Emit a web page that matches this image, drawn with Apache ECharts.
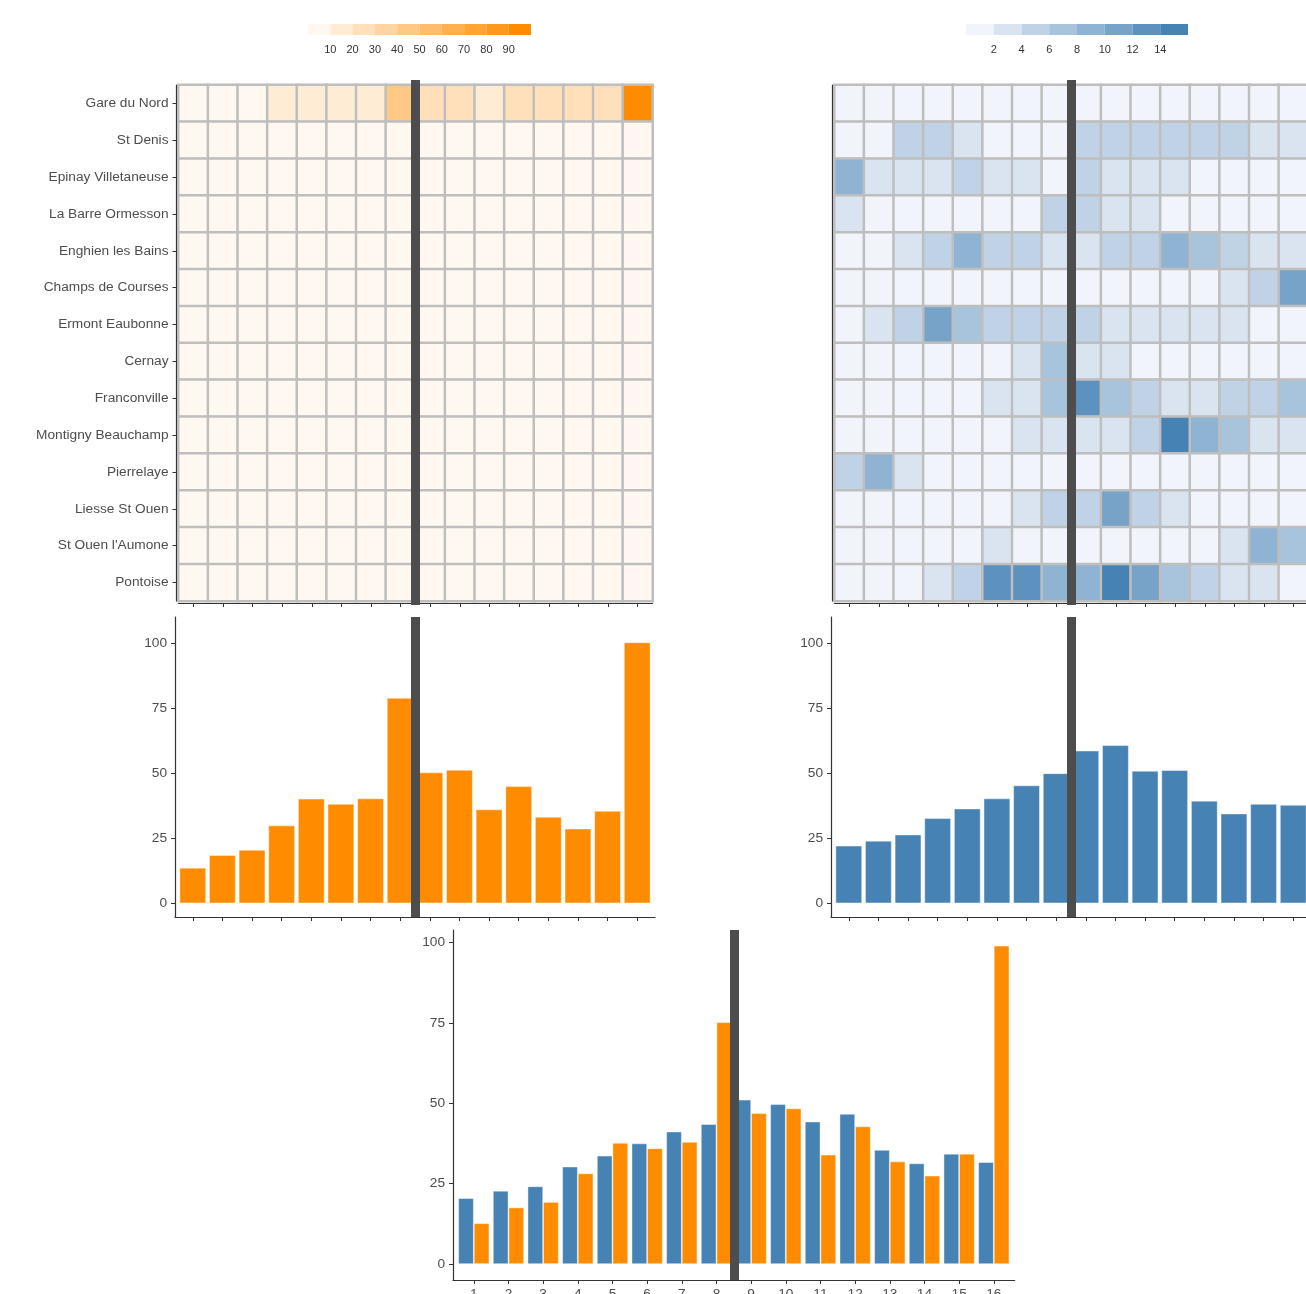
<!DOCTYPE html>
<html>
<head>
<meta charset="utf-8">
<script src="https://cdn.jsdelivr.net/npm/echarts@6/dist/echarts.min.js"></script>
<style>
  html, body { margin: 0; padding: 0; background: #ffffff; }
  #chart { width: 1306px; height: 1294px; }
</style>
</head>
<body>
<div id="chart"></div>
<script>
// Stations along the line, top to bottom
const stations = [
  'Gare du Nord', 'St Denis', 'Epinay Villetaneuse', 'La Barre Ormesson',
  'Enghien les Bains', 'Champs de Courses', 'Ermont Eaubonne', 'Cernay',
  'Franconville', 'Montigny Beauchamp', 'Pierrelaye', 'Liesse St Ouen',
  "St Ouen l'Aumone", 'Pontoise'
];
// Time slots 1..16
const slots = [1, 2, 3, 4, 5, 6, 7, 8, 9, 10, 11, 12, 13, 14, 15, 16];
// The dark separator sits after this slot
const splitAfter = 8;

// Orange counts per station (rows) and slot (columns)
const orangeCounts = [
  [4, 5, 6, 14, 15, 16, 15, 45, 26, 27, 16, 24, 25, 23, 24, 96],
  [2, 2, 3, 2, 3, 2, 3, 4, 3, 2, 3, 2, 2, 3, 2, 3],
  [1, 2, 2, 3, 2, 2, 2, 3, 2, 2, 2, 1, 1, 2, 1, 2],
  [1, 1, 1, 1, 2, 1, 2, 3, 2, 2, 1, 1, 1, 1, 1, 1],
  [1, 1, 2, 2, 3, 2, 2, 2, 2, 2, 2, 3, 2, 2, 1, 1],
  [1, 1, 1, 1, 1, 1, 1, 1, 1, 1, 1, 1, 1, 2, 2, 3],
  [1, 2, 2, 3, 3, 2, 2, 2, 2, 2, 2, 2, 2, 1, 1, 1],
  [0, 1, 1, 1, 1, 1, 1, 2, 1, 1, 1, 1, 1, 1, 1, 1],
  [1, 1, 1, 1, 1, 2, 2, 2, 3, 2, 2, 2, 1, 2, 2, 2],
  [1, 1, 1, 1, 1, 1, 2, 2, 2, 2, 2, 3, 2, 2, 1, 1],
  [1, 2, 1, 1, 1, 1, 1, 1, 1, 1, 1, 1, 1, 1, 1, 1],
  [1, 1, 1, 1, 1, 1, 1, 2, 2, 3, 2, 1, 1, 1, 1, 1],
  [1, 1, 1, 1, 1, 1, 1, 1, 1, 1, 1, 1, 1, 1, 2, 2],
  [1, 1, 1, 2, 2, 3, 3, 3, 3, 3, 3, 2, 2, 1, 1, 1]
];

// Blue counts per station (rows) and slot (columns)
const blueCounts = [
  [1, 1, 1, 1, 1, 1, 1, 1, 1, 1, 1, 1, 1, 1, 1, 1],
  [1, 1, 5, 5, 3, 1, 1, 1, 5, 5, 5, 5, 5, 5, 3, 3],
  [9, 3, 3, 3, 5, 3, 3, 1, 5, 3, 3, 3, 1, 1, 1, 1],
  [3, 1, 1, 1, 1, 1, 1, 5, 5, 3, 3, 1, 1, 1, 1, 1],
  [1, 1, 3, 5, 9, 5, 5, 3, 3, 5, 5, 9, 7, 5, 3, 3],
  [1, 1, 1, 1, 1, 1, 1, 1, 1, 1, 1, 1, 1, 3, 5, 11],
  [1, 3, 5, 11, 7, 5, 5, 5, 5, 3, 3, 3, 3, 3, 1, 1],
  [1, 1, 1, 1, 1, 1, 3, 7, 3, 3, 1, 1, 1, 1, 1, 1],
  [1, 1, 1, 1, 1, 3, 3, 7, 13, 7, 5, 3, 3, 5, 5, 7],
  [1, 1, 1, 1, 1, 1, 3, 3, 3, 3, 5, 15, 9, 7, 3, 3],
  [5, 9, 3, 1, 1, 1, 1, 1, 1, 1, 1, 1, 1, 1, 1, 1],
  [1, 1, 1, 1, 1, 1, 3, 5, 5, 11, 5, 3, 1, 1, 1, 1],
  [1, 1, 1, 1, 1, 3, 1, 1, 1, 1, 1, 1, 1, 3, 9, 7],
  [1, 1, 1, 3, 5, 13, 13, 9, 9, 15, 11, 7, 5, 3, 3, 1]
];

// Totals per slot
const orangeTotals = [13.7, 18.6, 20.6, 30.0, 40.3, 38.3, 40.4, 79.1, 50.4, 51.4, 36.2, 45.1, 33.3, 28.8, 35.6, 100.5];
const blueTotals = [22.2, 24.1, 26.5, 32.8, 36.5, 40.4, 45.4, 50.1, 58.8, 60.9, 51.0, 51.3, 39.5, 34.6, 38.3, 37.9];

// Side-by-side comparison
const compareBlue = [20.5, 22.8, 24.2, 30.3, 33.7, 37.5, 41.2, 43.5, 51.1, 49.7, 44.3, 46.7, 35.5, 31.3, 34.3, 31.7];
const compareOrange = [12.7, 17.6, 19.3, 28.2, 37.7, 36.0, 38.0, 75.2, 46.9, 48.4, 34.0, 42.8, 31.9, 27.5, 34.3, 99.0];

// Tick labels
const barTicks = [0, 25, 50, 75, 100];
const orangeLegendTicks = [10, 20, 30, 40, 50, 60, 70, 80, 90];
const blueLegendTicks = [2, 4, 6, 8, 10, 12, 14];

// ---------- helpers ----------
const ORANGE = '#ff8c00';
const BLUE = '#4682b4';
const SEP = '#4d4d4d';
const AXIS = '#333333';
const LABEL = '#4d4d4d';
const FONT = '"Liberation Sans", Arial, Helvetica, sans-serif';
const TICK_FONT = 13.7;

function hexToRgb(h) {
  const n = parseInt(h.slice(1), 16);
  return [(n >> 16) & 255, (n >> 8) & 255, n & 255];
}
// Stepped colour ramp: count equal bins between lo and hi
function rampBins(lo, hi, count, from, to) {
  const a = hexToRgb(from), b = hexToRgb(to), step = (hi - lo) / count, out = [];
  for (let i = 0; i < count; i++) {
    const t = i / (count - 1);
    const c = a.map((v, k) => Math.round(v + (b[k] - v) * t));
    const piece = { gte: lo + i * step, color: 'rgb(' + c.join(',') + ')' };
    if (i === count - 1) piece.lte = hi; else piece.lt = lo + (i + 1) * step;
    out.push(piece);
  }
  return out;
}
const orangeBins = rampBins(0, 100, 10, '#fff8f0', ORANGE);
const blueBins = rampBins(0, 16, 8, '#f1f4fa', BLUE);

function cells(matrix) {
  const out = [];
  matrix.forEach((row, r) => row.forEach((v, c) => out.push([c, r, v])));
  return out;
}
const pairs = arr => arr.map((v, i) => [slots[i], v]);

const sepLine = {
  silent: true,
  symbol: ['none', 'none'],
  label: { show: false },
  lineStyle: { color: SEP, width: 9, type: 'solid', opacity: 1 },
  emphasis: { disabled: true },
  z: 10,
  data: [{ xAxis: splitAfter + 0.5 }]
};
// Empty carrier series that only draws the separator in a grid
function separator(xi, yi) {
  return { type: 'line', xAxisIndex: xi, yAxisIndex: yi, data: [], symbol: 'none', z: 10, markLine: sepLine };
}

function legendSeries(bins, xi, yi) {
  return {
    type: 'custom', xAxisIndex: xi, yAxisIndex: yi, silent: true,
    data: bins.map(b => [b.gte, b.lt !== undefined ? b.lt : b.lte]),
    renderItem: (params, api) => {
      const p0 = api.coord([api.value(0), 1]);
      const p1 = api.coord([api.value(1), 0]);
      return {
        type: 'rect',
        shape: { x: p0[0], y: p0[1], width: p1[0] - p0[0], height: p1[1] - p0[1] },
        style: { fill: bins[params.dataIndex].color }
      };
    }
  };
}

// ---------- axes ----------
function heatX(grid) {
  return {
    type: 'category', gridIndex: grid, data: slots.map(String), offset: 2,
    axisLine: { show: true, onZero: false, lineStyle: { color: AXIS, width: 1.2 } },
    axisTick: { show: true, alignWithLabel: true, length: 4, lineStyle: { color: AXIS } },
    axisLabel: { show: false }, splitLine: { show: false }
  };
}
function heatY(grid, labels) {
  return {
    type: 'category', gridIndex: grid, data: stations, inverse: true, offset: 2,
    axisLine: { show: true, onZero: false, lineStyle: { color: AXIS, width: 1.2 } },
    axisTick: { show: labels, alignWithLabel: true, length: 4, lineStyle: { color: AXIS } },
    axisLabel: { show: labels, color: LABEL, fontSize: TICK_FONT, fontFamily: FONT, margin: 8 },
    splitLine: { show: false }
  };
}
function hiddenValue(grid, min, max) {
  return { type: 'value', gridIndex: grid, min, max, show: false };
}
function barX(grid, labels) {
  return {
    type: 'value', gridIndex: grid, min: 0.4, max: 16.6,
    axisLine: { show: true, onZero: false, lineStyle: { color: AXIS, width: 1.2 } },
    axisTick: { show: true, length: 4, customValues: slots, lineStyle: { color: AXIS } },
    axisLabel: { show: labels, customValues: slots, color: LABEL, fontSize: TICK_FONT, fontFamily: FONT, margin: 7 },
    splitLine: { show: false }
  };
}
function barY(grid, min, max) {
  return {
    type: 'value', gridIndex: grid, min, max,
    axisLine: { show: true, onZero: false, lineStyle: { color: AXIS, width: 1.2 } },
    axisTick: { show: true, length: 4, customValues: barTicks, lineStyle: { color: AXIS } },
    axisLabel: { show: true, customValues: barTicks, color: LABEL, fontSize: TICK_FONT, fontFamily: FONT, margin: 8 },
    splitLine: { show: false }
  };
}
function legendX(grid, min, max, ticks) {
  return {
    type: 'value', gridIndex: grid, min, max,
    axisLine: { show: false }, axisTick: { show: false }, splitLine: { show: false },
    axisLabel: { show: true, customValues: ticks, color: '#333333', fontSize: 11, fontFamily: FONT, margin: 9 }
  };
}

const barEdge = { borderColor: 'rgba(255,255,255,0.55)', borderWidth: 0.8 };

const option = {
  animation: false,
  backgroundColor: '#ffffff',
  textStyle: { fontFamily: FONT },
  grid: [
    { left: 178.5, top: 85, width: 474, height: 516 },   // 0 orange heatmap
    { left: 834.5, top: 85, width: 474, height: 516 },   // 1 blue heatmap
    { left: 178.5, top: 80, width: 474, height: 525 },   // 2 orange separator band
    { left: 834.5, top: 80, width: 474, height: 525 },   // 3 blue separator band
    { left: 175, top: 617, width: 480, height: 300 },    // 4 orange totals
    { left: 831, top: 617, width: 480, height: 300 },    // 5 blue totals
    { left: 453, top: 930, width: 561.6, height: 350 },  // 6 comparison
    { left: 308, top: 24, width: 223, height: 11 },      // 7 orange key
    { left: 966, top: 24, width: 222, height: 11 }       // 8 blue key
  ].map(g => Object.assign({ containLabel: false, outerBoundsMode: 'none' }, g)),
  xAxis: [
    heatX(0), heatX(1),
    hiddenValue(2, 0.5, 16.5), hiddenValue(3, 0.5, 16.5),
    barX(4, false), barX(5, false), barX(6, true),
    legendX(7, 0, 100, orangeLegendTicks), legendX(8, 0, 16, blueLegendTicks)
  ],
  yAxis: [
    heatY(0, true), heatY(1, false),
    hiddenValue(2, 0, 1), hiddenValue(3, 0, 1),
    barY(4, -5.25, 110.25), barY(5, -5.25, 110.25), barY(6, -4.95, 103.85),
    hiddenValue(7, 0, 1), hiddenValue(8, 0, 1)
  ],
  visualMap: [
    { type: 'piecewise', show: false, seriesIndex: 0, dimension: 2, pieces: orangeBins },
    { type: 'piecewise', show: false, seriesIndex: 1, dimension: 2, pieces: blueBins }
  ],
  series: [
    {
      type: 'heatmap', xAxisIndex: 0, yAxisIndex: 0, data: cells(orangeCounts),
      itemStyle: { borderColor: '#bebebe', borderWidth: 2.5 }, emphasis: { disabled: true }
    },
    {
      type: 'heatmap', xAxisIndex: 1, yAxisIndex: 1, data: cells(blueCounts),
      itemStyle: { borderColor: '#bebebe', borderWidth: 2.5 }, emphasis: { disabled: true }
    },
    separator(2, 2),
    separator(3, 3),
    {
      type: 'bar', xAxisIndex: 4, yAxisIndex: 4, data: pairs(orangeTotals), barWidth: '90%',
      itemStyle: Object.assign({ color: ORANGE }, barEdge)
    },
    separator(4, 4),
    {
      type: 'bar', xAxisIndex: 5, yAxisIndex: 5, data: pairs(blueTotals), barWidth: '90%',
      itemStyle: Object.assign({ color: BLUE }, barEdge)
    },
    separator(5, 5),
    {
      type: 'bar', xAxisIndex: 6, yAxisIndex: 6, data: pairs(compareBlue), barWidth: '45%', barGap: '0%',
      itemStyle: Object.assign({ color: BLUE }, barEdge)
    },
    {
      type: 'bar', xAxisIndex: 6, yAxisIndex: 6, data: pairs(compareOrange), barWidth: '45%', barGap: '0%',
      itemStyle: Object.assign({ color: ORANGE }, barEdge)
    },
    separator(6, 6),
    legendSeries(orangeBins, 7, 7),
    legendSeries(blueBins, 8, 8)
  ]
};

const chart = echarts.init(document.getElementById('chart'), null, { renderer: 'canvas' });
chart.setOption(option);
</script>
</body>
</html>
